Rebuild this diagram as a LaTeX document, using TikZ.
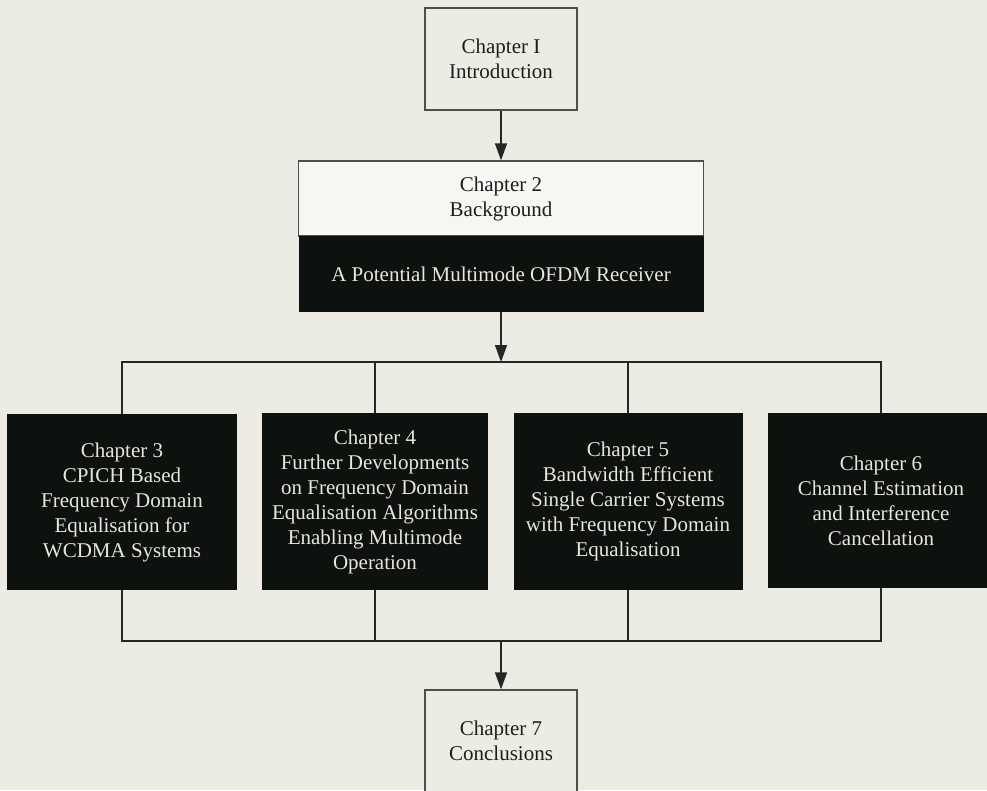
\documentclass[tikz,border=0pt]{standalone}
\usepackage{fontspec}
\setmainfont{Liberation Serif}
\usetikzlibrary{arrows.meta}
\definecolor{paper}{HTML}{ECECE5}
\definecolor{whitish}{HTML}{F6F6F2}
\definecolor{ink}{HTML}{0E120F}
\definecolor{pale}{HTML}{E6E6DC}
\definecolor{frame}{HTML}{4E4F4C}
\definecolor{textdark}{HTML}{1E1E1C}
\begin{document}
\begin{tikzpicture}[x=1pt,y=-1pt,
  txt/.style={font=\fontsize{21}{25}\selectfont, align=center, inner sep=0pt},
  lightbox/.style={txt, draw=frame, line width=1.3pt, fill=paper, text=textdark},
  whitebox/.style={lightbox, fill=whitish},
  darkbox/.style={txt, fill=ink, text=pale},
  link/.style={line width=1.4pt, draw=black!85},
  arr/.style={link, -{Triangle[length=17pt,width=12pt]}}]
\fill[paper] (0,0) rectangle (987,790);
\useasboundingbox (0,0) rectangle (987,790);

% boxes
\node[lightbox, minimum width=152pt, minimum height=102pt] (ch1) at (501,59) {Chapter I\\Introduction};
\node[whitebox, minimum width=405pt, minimum height=75pt] (ch2) at (501,198.5) {Chapter 2\\Background};
\node[darkbox, minimum width=405pt, minimum height=76pt] (ch2b) at (501,274) {A Potential Multimode OFDM Receiver};
\node[darkbox, minimum width=230pt, minimum height=176pt] (ch3) at (122,502) {Chapter 3\\CPICH Based\\Frequency Domain\\Equalisation for\\WCDMA Systems};
\node[darkbox, minimum width=226pt, minimum height=177pt] (ch4) at (375,501.5) {Chapter 4\\Further Developments\\on Frequency Domain\\Equalisation Algorithms\\Enabling Multimode\\Operation};
\node[darkbox, minimum width=229pt, minimum height=177pt] (ch5) at (628,501.5) {Chapter 5\\Bandwidth Efficient\\Single Carrier Systems\\with Frequency Domain\\Equalisation};
\node[darkbox, minimum width=226pt, minimum height=175pt] (ch6) at (881,500.5) {Chapter 6\\Channel Estimation\\and Interference\\Cancellation};
\node[lightbox, minimum width=152pt, minimum height=102pt] (ch7) at (501,741) {Chapter 7\\Conclusions};

% bus points
\coordinate (busT) at (501,362);
\coordinate (busB) at (501,641);

% connectors
\draw[arr] (ch1.south) -- (ch2.north);
\draw[arr] (ch2b.south) -- (busT);
\draw[link] (ch3.north) -- (ch3.north |- busT) -- (ch6.north |- busT) -- (ch6.north);
\draw[link] (ch4.north) -- (ch4.north |- busT);
\draw[link] (ch5.north) -- (ch5.north |- busT);
\draw[link] (ch3.south) -- (ch3.south |- busB) -- (ch6.south |- busB) -- (ch6.south);
\draw[link] (ch4.south) -- (ch4.south |- busB);
\draw[link] (ch5.south) -- (ch5.south |- busB);
\draw[arr] (busB) -- (ch7.north);
\end{tikzpicture}
\end{document}
